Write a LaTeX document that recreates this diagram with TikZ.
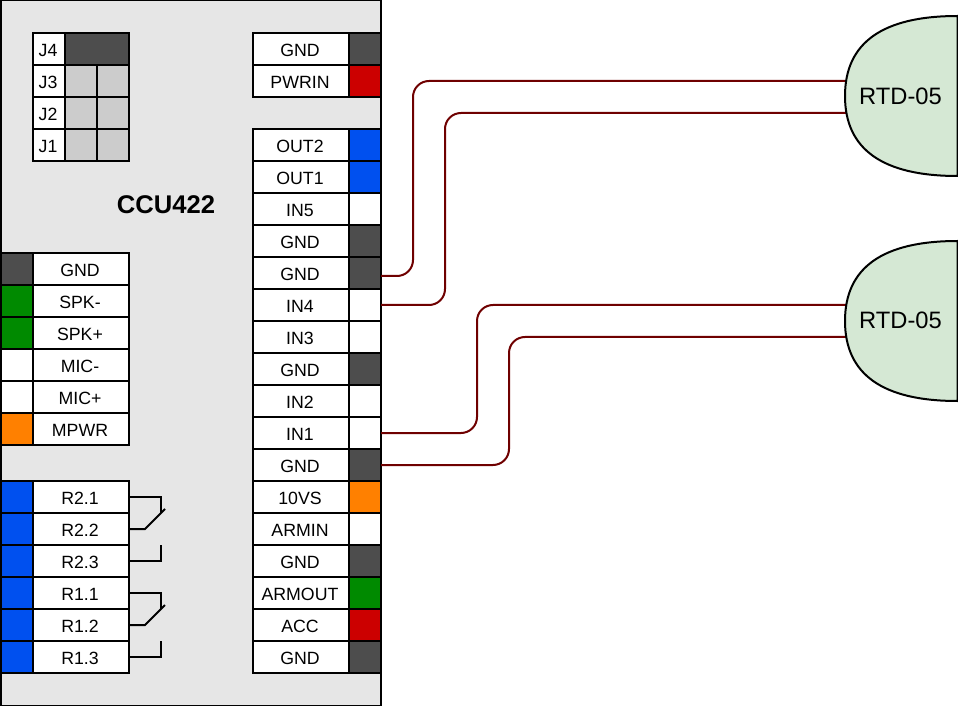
\documentclass[tikz,border=0pt]{standalone}
\usepackage{fontspec}
\setmainfont{Liberation Sans}
\definecolor{darkpin}{HTML}{4D4D4D}
\definecolor{bluepin}{HTML}{0050EF}
\definecolor{greenpin}{HTML}{008A00}
\definecolor{redpin}{HTML}{CC0000}
\definecolor{orangepin}{HTML}{FF8000}
\definecolor{lightpin}{HTML}{CCCCCC}
\definecolor{bodygrey}{HTML}{E6E6E6}
\definecolor{rtdgreen}{HTML}{D5E8D4}
\definecolor{wirered}{HTML}{6F0000}
\tikzset{
  cell/.style={draw=black,fill=white,inner sep=0pt,outer sep=0pt,minimum height=24pt,text height=11pt,text depth=0pt,font=\fontsize{13.3pt}{15pt}\selectfont},
  lab/.style={cell,minimum width=72pt},
  pin/.style={cell,minimum width=24pt},
  wire/.style={draw=wirered,rounded corners=12pt},
  relay/.style={draw=black},
  rtd/.style={draw=black,fill=rtdgreen},
}
\newcommand{\rightrow}[4]{% name, y, text, colour
  \node[lab] (#1l) at (301,#2) {\hspace*{-1.5pt}#3};
  \node[pin,fill=#4] (#1) at (365,#2) {};
}
\newcommand{\leftrow}[4]{%
  \node[pin,fill=#4] (#1) at (17,#2) {};
  \node[lab] (#1l) at (81,#2) {\hspace*{-1.5pt}#3};
}
\begin{document}
\begin{tikzpicture}[x=0.75pt,y=-0.75pt,line width=1.5pt]
\useasboundingbox (0,0) rectangle (958,706);
% body
\node[draw=black,fill=bodygrey,inner sep=0pt,outer sep=0pt,minimum width=285.0pt,minimum height=528.75pt] (body) at (190.5,353) {};
\node[font=\bfseries\fontsize{19.2pt}{22pt}\selectfont] (title) at (166,205) {CCU422};
% jumpers
\node[pin] (j4) at (49,49) {\hspace*{-1.5pt}J4};
\node[cell,fill=darkpin,minimum width=48pt] (j4p) at (97,49) {};
\foreach \n/\y in {3/81,2/113,1/145}{
  \node[pin] (j\n) at (49,\y) {\hspace*{-1.5pt}J\n};
  \node[pin,fill=lightpin] (j\n a) at (81,\y) {};
  \node[pin,fill=lightpin] (j\n b) at (113,\y) {};
}
% power
\rightrow{pg}{49}{GND}{darkpin}
\rightrow{pw}{81}{PWRIN}{redpin}
% right connector
\rightrow{out2}{145}{OUT2}{bluepin}
\rightrow{out1}{177}{OUT1}{bluepin}
\rightrow{in5}{209}{IN5}{white}
\rightrow{ga}{241}{GND}{darkpin}
\rightrow{gb}{273}{GND}{darkpin}
\rightrow{in4}{305}{IN4}{white}
\rightrow{in3}{337}{IN3}{white}
\rightrow{gc}{369}{GND}{darkpin}
\rightrow{in2}{401}{IN2}{white}
\rightrow{in1}{433}{IN1}{white}
\rightrow{gd}{465}{GND}{darkpin}
\rightrow{vs}{497}{10VS}{orangepin}
\rightrow{armin}{529}{ARMIN}{white}
\rightrow{ge}{561}{GND}{darkpin}
\rightrow{armout}{593}{ARMOUT}{greenpin}
\rightrow{acc}{625}{ACC}{redpin}
\rightrow{gf}{657}{GND}{darkpin}
% left connector
\leftrow{lg}{269}{GND}{darkpin}
\leftrow{sm}{301}{SPK-}{greenpin}
\leftrow{sp}{333}{SPK+}{greenpin}
\leftrow{mm}{365}{MIC-}{white}
\leftrow{mp}{397}{MIC+}{white}
\leftrow{mpwr}{429}{MPWR}{orangepin}
% relays
\leftrow{ra}{497}{R2.1}{bluepin}
\leftrow{rb}{529}{R2.2}{bluepin}
\leftrow{rc}{561}{R2.3}{bluepin}
\leftrow{rd}{593}{R1.1}{bluepin}
\leftrow{re}{625}{R1.2}{bluepin}
\leftrow{rf}{657}{R1.3}{bluepin}
\draw[relay] (ral.east) -- (161,497) -- (161,513);
\draw[relay] (rbl.east) -- (145,529) -- (165,509);
\draw[relay] (rcl.east) -- (161,561) -- (161,545);
\draw[relay] (rdl.east) -- (161,593) -- (161,609);
\draw[relay] (rel.east) -- (145,625) -- (165,605);
\draw[relay] (rfl.east) -- (161,657) -- (161,641);
% wires
\coordinate (ta) at (860,81);
\coordinate (tb) at (860,113);
\coordinate (tc) at (860,305);
\coordinate (td) at (860,337);
\draw[wire] ([yshift=-2.25pt]gb.east) -- (413,276) -- (413,81) -- (ta);
\draw[wire] (in4.east) -- (445,305) -- (445,113) -- (tb);
\draw[wire] (in1.east) -- (477,433) -- (477,305) -- (tc);
\draw[wire] (gd.east) -- (509,465) -- (509,337) -- (td);
% sensors
\draw[rtd] (957.5,16) .. controls (882.5,16) and (845,42.7) .. (845,96) .. controls (845,149.3) and (882.5,176) .. (957.5,176) -- cycle;
\node[font=\fontsize{17.8pt}{20pt}\selectfont] (rtda) at (900.5,96) {RTD-05};
\draw[rtd] (957.5,241) .. controls (882.5,241) and (845,267.7) .. (845,321) .. controls (845,374.3) and (882.5,401) .. (957.5,401) -- cycle;
\node[font=\fontsize{17.8pt}{20pt}\selectfont] (rtdb) at (900.5,320) {RTD-05};
\end{tikzpicture}
\end{document}
